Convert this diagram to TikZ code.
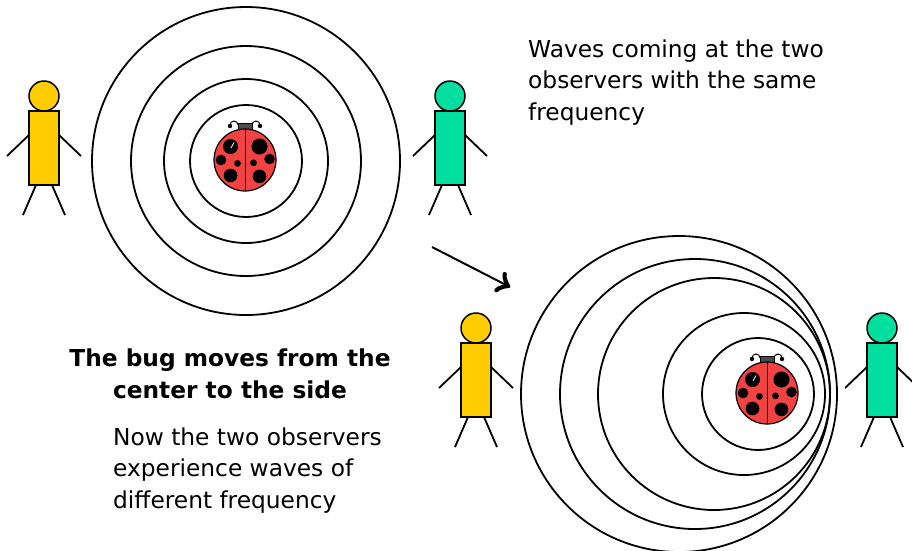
\documentclass[tikz,border=0pt]{standalone}
\usepackage{fontspec}
\setmainfont{DejaVu Sans}
\usetikzlibrary{arrows}
\usetikzlibrary{decorations.markings}
\tikzset{->/.style = {decoration={markings,
                                  mark=at position 1 with {\arrow[scale=2.6]{to}}},
                      postaction={decorate}}}
\tikzset{wave/.style = {line width = 1.8}}
\tikzset{limb/.style = {line width = 1.8}}
\newcommand{\wordsize}{\fontsize{23.3}{31.5}\selectfont}
\tikzset{words/.style = {font = \wordsize, inner sep = 0}}
\definecolor{bugred}{RGB}{242, 66, 66}
\definecolor{myellow}{RGB}{255, 204, 0}
\definecolor{mgreen}{RGB}{0, 222, 160}

% stick figure, body top at the origin
\tikzset{pics/observer/.style = {code = {
    \draw [limb] (-15, 24) -- (-37, 45);
    \draw [limb] (15, 24) -- (37, 45);
    \draw [limb] (-8, 74) -- (-21, 104);
    \draw [limb] (8, 74) -- (21, 104);
    \draw [line width = 1.5, fill = #1] (-15, 0) rectangle (15, 74);
    \draw [line width = 1.5, fill = #1] (0, -15) circle (15);
}}}

% ladybug, body centre at the origin
\tikzset{pics/ladybug/.style = {code = {
    \draw [line width = 1, fill = white] (-7, -35) arc (0:-180:4);
    \draw [line width = 1, fill = white] (7, -35) arc (180:360:4);
    \fill (-15, -34) circle (2.2);
    \fill (15, -34) circle (2.2);
    \draw [line width = 1, fill = black!70] (-7, -37) rectangle (7, -31);
    \draw [line width = 1.2, fill = bugred] (0, 0) circle (31);
    \draw [line width = 0.7] (0, -31) -- (0, 31);
    \foreach \x/\y/\r in {-14.5/-13.5/7.5, -24/0/5.3, -7.5/3.4/3.4, -14.5/15.5/6.8,
                          14.5/-13.5/8, 24.5/-1/5.3, 8.5/2.8/3.4, 14.5/16.4/6.8}
        \fill (\x, \y) circle (\r);
    \draw [white, line width = 0.8] (-11, -17.5) -- (-14, -12);
}}}

\begin{document}
\begin{tikzpicture}[x = 1pt, y = -1pt]
    \useasboundingbox (0, 0) rectangle (912, 550);

    % bug at rest
    \foreach \r in {56, 82, 115, 154}
        \draw [wave] (246, 161) circle (\r);
    \pic (bugA) at (245, 160) {ladybug};
    \pic (leftA) at (44, 111) {observer = myellow};
    \pic (rightA) at (450, 111) {observer = mgreen};

    % bug moving to the right
    \foreach \cx/\r in {758/56, 744/81, 714/116, 695/135, 679/158}
        \draw [wave] (\cx, 394) circle (\r);
    \pic (bugB) at (767, 393) {ladybug};
    \pic (leftB) at (476, 343) {observer = myellow};
    \pic (rightB) at (882, 343) {observer = mgreen};

    \coordinate (move start) at (432, 247);
    \coordinate (move end) at (510, 287);
    \draw [->, line width = 2] (move start) -- (move end);

    % base of a multi-line node sits on its last line
    \node (same text) [words, anchor = base west, align = left] at (528, 120)
        {Waves coming at the two\\observers with the same\\frequency};
    \node (move text) [words, anchor = base, align = center,
                       font = \wordsize\bfseries] at (230, 398)
        {The bug moves from the\\center to the side};
    \node (diff text) [words, anchor = base west, align = left] at (113, 508)
        {Now the two observers\\experience waves of\\different frequency};
\end{tikzpicture}
\end{document}
